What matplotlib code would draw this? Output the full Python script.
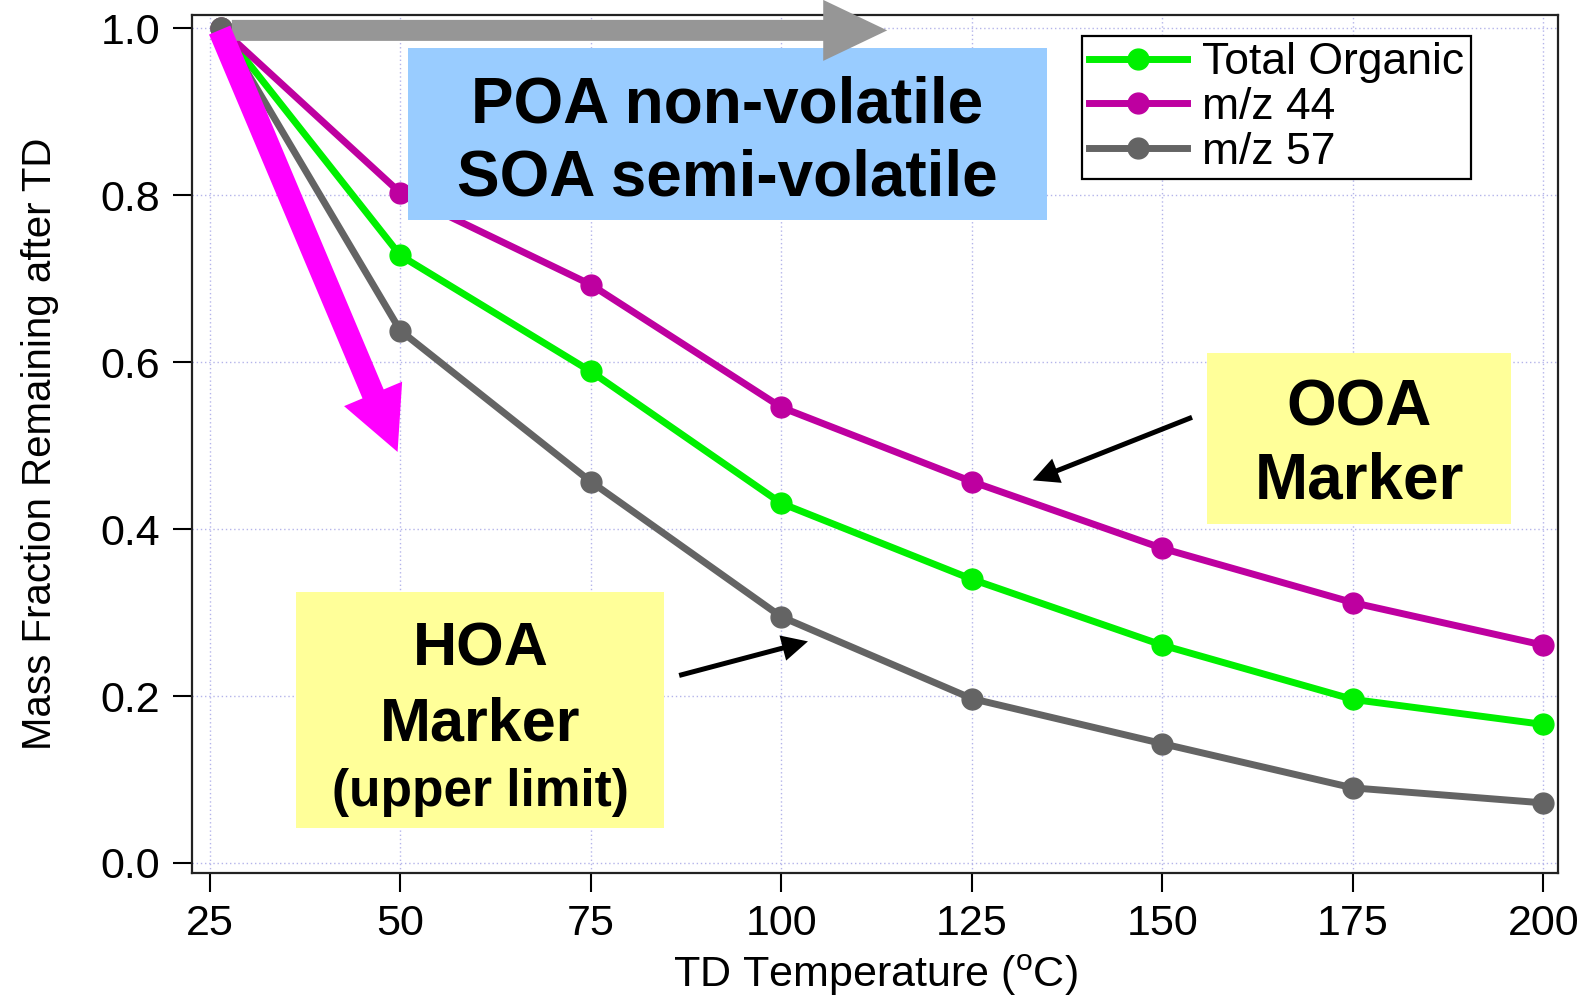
import matplotlib
matplotlib.use("Agg")
import matplotlib.pyplot as plt
from matplotlib.patches import FancyArrow, Rectangle
from matplotlib.transforms import IdentityTransform

plt.rcParams['font.family'] = ['Liberation Sans', 'DejaVu Sans']
plt.rcParams['mathtext.fontset'] = 'custom'
plt.rcParams['mathtext.rm'] = 'Liberation Sans'

# thermodenuder temperature steps (deg C)
temps = [26.5, 50, 75, 100, 125, 150, 175, 200]
total_org = [1.0, 0.728, 0.589, 0.431, 0.340, 0.261, 0.196, 0.166]
mz44 = [1.0, 0.803, 0.693, 0.546, 0.457, 0.377, 0.312, 0.261]
mz57 = [1.0, 0.638, 0.457, 0.295, 0.197, 0.143, 0.090, 0.072]

series_names = ['Total Organic', 'm/z 44', 'm/z 57']
series_colors = ['#00F000', '#BE00A0', '#646464']

x_ticks = [25, 50, 75, 100, 125, 150, 175, 200]
y_ticks = [0.0, 0.2, 0.4, 0.6, 0.8, 1.0]

fig = plt.figure(figsize=(15.89, 10.0), dpi=100)
ax = fig.add_axes([0.1211, 0.1275, 0.8591, 0.8573])

for vals, name, col in zip([total_org, mz44, mz57], series_names, series_colors):
    ax.plot(temps, vals, '-o', color=col, lw=5, ms=15, label=name, zorder=3)

ax.set_xlim(22.73, 201.86)
ax.set_ylim(-0.0114, 1.0158)
ax.set_xticks(x_ticks)
ax.set_yticks(y_ticks)
ax.set_yticklabels(['%.1f' % v for v in y_ticks])
ax.grid(True, ls=(0, (1, 2)), color='#b4b4ea', lw=1.0, zorder=0)
ax.tick_params(labelsize=31, length=14, width=1.5, pad=9, colors='black')
for s in ax.spines.values():
    s.set_linewidth(1.6)
    s.set_color('#222222')

ax.set_xlabel(r'TD Temperature ($^{\mathrm{o}}$C)', fontsize=31, labelpad=6)
ax.set_ylabel('Mass Fraction Remaining after TD', fontsize=29, labelpad=30)

leg = ax.legend(loc='upper left', bbox_to_anchor=(0.6518, 0.976), fontsize=32,
                frameon=True, fancybox=False, edgecolor='black', framealpha=1,
                handlelength=2.2, handletextpad=0.35, borderpad=0.15,
                labelspacing=0.08, borderaxespad=0)
leg.get_frame().set_linewidth(1.6)
leg.set_zorder(10)

# text boxes (axes fraction)
ax.add_patch(Rectangle((0.1579, 0.7611), 0.4681, 0.2006, transform=ax.transAxes,
                       facecolor='#99CCFF', edgecolor='none', zorder=6))
ax.add_patch(Rectangle((0.7432, 0.4065), 0.2227, 0.1995, transform=ax.transAxes,
                       facecolor='#FFFF99', edgecolor='none', zorder=6))
ax.add_patch(Rectangle((0.0758, 0.0519), 0.2696, 0.2753, transform=ax.transAxes,
                       facecolor='#FFFF99', edgecolor='none', zorder=6))

bold = dict(transform=ax.transAxes, ha='center', va='baseline', fontweight='bold',
            color='black', zorder=7)
ax.text(0.392, 0.8747, 'POA non-volatile', fontsize=46, **bold)
ax.text(0.392, 0.7896, 'SOA semi-volatile', fontsize=46, **bold)
ax.text(0.8546, 0.5213, 'OOA', fontsize=46, **bold)
ax.text(0.8546, 0.4361, 'Marker', fontsize=46, **bold)
ax.text(0.2109, 0.2420, 'HOA', fontsize=44, **bold)
ax.text(0.2109, 0.1534, 'Marker', fontsize=44, **bold)
ax.text(0.2109, 0.0776, '(upper limit)', fontsize=37, **bold)


def arrow(x0, y0, x1, y1, width, head_w, head_len, color):
    # endpoints in data units, arrow shape in pixels
    (px0, py0), (px1, py1) = ax.transData.transform([(x0, y0), (x1, y1)])
    a = FancyArrow(px0, py0, px1 - px0, py1 - py0, width=width,
                   head_width=head_w, head_length=head_len,
                   length_includes_head=True, color=color, lw=0,
                   transform=IdentityTransform(), clip_on=False, zorder=8)
    ax.add_artist(a)


arrow(27.9, 0.9976, 113.9, 0.9976, 21, 61, 64, '#969696')
arrow(26.3, 0.998, 49.65, 0.4925, 23, 63, 63, '#FF00FF')
arrow(153.9, 0.534, 133.0, 0.4585, 5, 26, 26, 'black')
arrow(86.6, 0.2247, 103.5, 0.2655, 5, 26, 26, 'black')

fig.savefig('out.png', dpi=100)
